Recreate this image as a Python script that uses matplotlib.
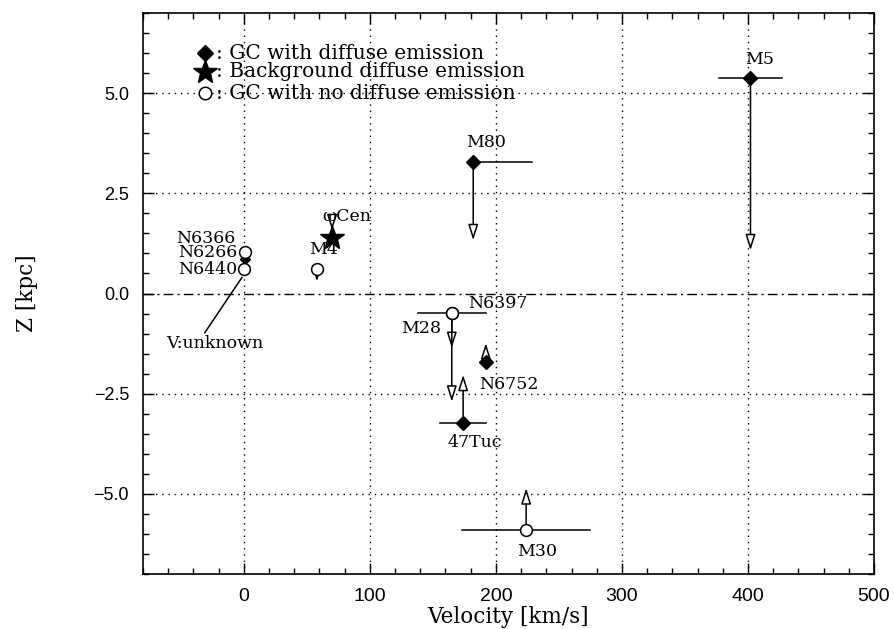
import matplotlib
matplotlib.use("Agg")
import matplotlib.pyplot as plt
from matplotlib.ticker import MultipleLocator

# ---- data ----
# GC with diffuse emission (diamonds)
dif_names = ["M5", "M80", "N6266", "N6752", "47Tuc"]
dif_v = [402, 182, 1, 192, 174]
dif_z = [5.39, 3.29, 0.86, -1.72, -3.22]
dif_xerr_lo = [25, 0, 0, 0, 18]
dif_xerr_hi = [25, 47, 0, 0, 18]
dif_ms = [9.5, 9.5, 6.5, 9.5, 9.5]

# Background diffuse emission (star)
bg_names = ["ωCen"]
bg_v = [70]
bg_z = [1.38]

# GC with no diffuse emission (open circles)
nd_names = ["N6366", "N6440", "M4", "N6397", "M28", "M30"]
nd_v = [1, 0, 58, 165, 165, 224]
nd_z = [1.04, 0.60, 0.60, -0.49, -0.49, -5.90]
nd_xerr = [0, 0, 0, 27, 0, 51]

# limit arrows: (x, z_start, z_end)
arr_x = [402, 182, 70, 58, 165, 165, 192, 174, 224]
arr_z0 = [5.39, 3.29, 1.85, 0.60, -0.49, -0.49, -1.72, -3.22, -5.90]
arr_z1 = [1.08, 1.33, 1.58, 0.30, -1.36, -2.70, -1.24, -2.03, -4.86]

# labels
lab_text = ["M5", "M80", "ωCen", "M4", "N6366", "N6266", "N6440", "N6397",
            "M28", "N6752", "47Tuc", "M30", "V:unknown"]
lab_x = [409, 192, 82, 63, -7, -5, -5, 178, 141, 187, 183, 233, -23]
lab_z = [5.83, 3.76, 1.92, 1.09, 1.37, 1.02, 0.60, -0.25, -0.87, -2.28, -3.73, -6.44, -1.24]
lab_ha = ["center", "center", "center", "center", "right", "right", "right", "left",
          "center", "left", "center", "center", "center"]

xticks = [0, 100, 200, 300, 400, 500]
yticks = [-5.0, -2.5, 0.0, 2.5, 5.0]

serif = ["DejaVu Serif"]
fs = 12.5
fs_key = 14.5

fig = plt.figure(figsize=(8.95, 6.29), dpi=100)
ax = fig.add_axes([143 / 895, 1 - 574 / 629, (874 - 143) / 895, (574 - 13) / 629])
ax.set_xlim(-80, 500)
ax.set_ylim(-7, 7)

# grid
for xv in xticks[:-1]:
    ax.axvline(xv, color="black", lw=1.0, ls=(0, (1, 3.5)), zorder=1)
for yv in yticks:
    if yv == 0:
        ax.axhline(yv, color="black", lw=1.0, ls=(0, (7, 3, 1.5, 3)), zorder=1)
    else:
        ax.axhline(yv, color="black", lw=1.0, ls=(0, (1, 3.5)), zorder=1)

# error bars
for v, z, lo, hi in zip(dif_v, dif_z, dif_xerr_lo, dif_xerr_hi):
    if lo or hi:
        ax.plot([v - lo, v + hi], [z, z], color="black", lw=1.1, zorder=2)
for v, z, e in zip(nd_v, nd_z, nd_xerr):
    if e:
        ax.plot([v - e, v + e], [z, z], color="black", lw=1.1, zorder=2)

# arrows
for x, z0, z1 in zip(arr_x, arr_z0, arr_z1):
    ax.annotate("", xy=(x, z1), xytext=(x, z0),
                arrowprops=dict(arrowstyle="-|>,head_length=0.95,head_width=0.3",
                                mutation_scale=10, fc="white", ec="black", lw=1.1,
                                shrinkA=0, shrinkB=0), zorder=3)

# markers
for v, z, ms in zip(dif_v, dif_z, dif_ms):
    ax.plot(v, z, marker="D", ms=ms * 0.75, color="black", ls="none", zorder=4)
ax.plot(bg_v, bg_z, marker="*", ms=18, color="black", ls="none", zorder=4)
ax.plot(nd_v, nd_z, marker="o", ms=8.5, mfc="white", mec="black", mew=1.1,
        ls="none", zorder=4)

# V:unknown pointer
ax.plot([-31, -1.5], [-0.98, 0.40], color="black", lw=1.1, zorder=3)

for t, x, z, ha in zip(lab_text, lab_x, lab_z, lab_ha):
    ax.text(x, z, t, ha=ha, va="center", fontsize=fs, family=serif, zorder=5)

# legend-like key
key_z = [6.0, 5.53, 5.0]
key_text = [": GC with diffuse emission", ": Background diffuse emission",
            ": GC with no diffuse emission"]
ax.plot(-31, key_z[0], marker="D", ms=8, color="black", ls="none", zorder=4)
ax.plot(-31, key_z[1], marker="*", ms=18, color="black", ls="none", zorder=4)
ax.plot(-31, key_z[2], marker="o", ms=9, mfc="white", mec="black", mew=1.1,
        ls="none", zorder=4)
for z, t in zip(key_z, key_text):
    ax.text(-22, z, t, ha="left", va="center", fontsize=fs_key, family=serif, zorder=5)

# ticks
ax.set_xticks(xticks)
ax.set_yticks(yticks)
ax.xaxis.set_minor_locator(MultipleLocator(20))
ax.yaxis.set_minor_locator(MultipleLocator(0.5))
ax.tick_params(which="both", direction="in", top=True, right=True, width=1.0)
ax.tick_params(which="major", length=8)
ax.tick_params(which="minor", length=4)
ax.tick_params(axis="x", pad=10)
ax.tick_params(axis="y", pad=10)
ax.set_xticklabels([str(t) for t in xticks], family=["Liberation Sans"], fontsize=14)
ax.set_yticklabels(["\u22125.0", "\u22122.5", "0.0", "2.5", "5.0"], family=["Liberation Sans"], fontsize=13)
for s in ax.spines.values():
    s.set_linewidth(1.2)

ax.set_xlabel("Velocity [km/s]", family=serif, fontsize=15.5, labelpad=1)
ax.set_ylabel("Z [kpc]", family=serif, fontsize=15.5, labelpad=40)

fig.savefig("out.png", dpi=100)
